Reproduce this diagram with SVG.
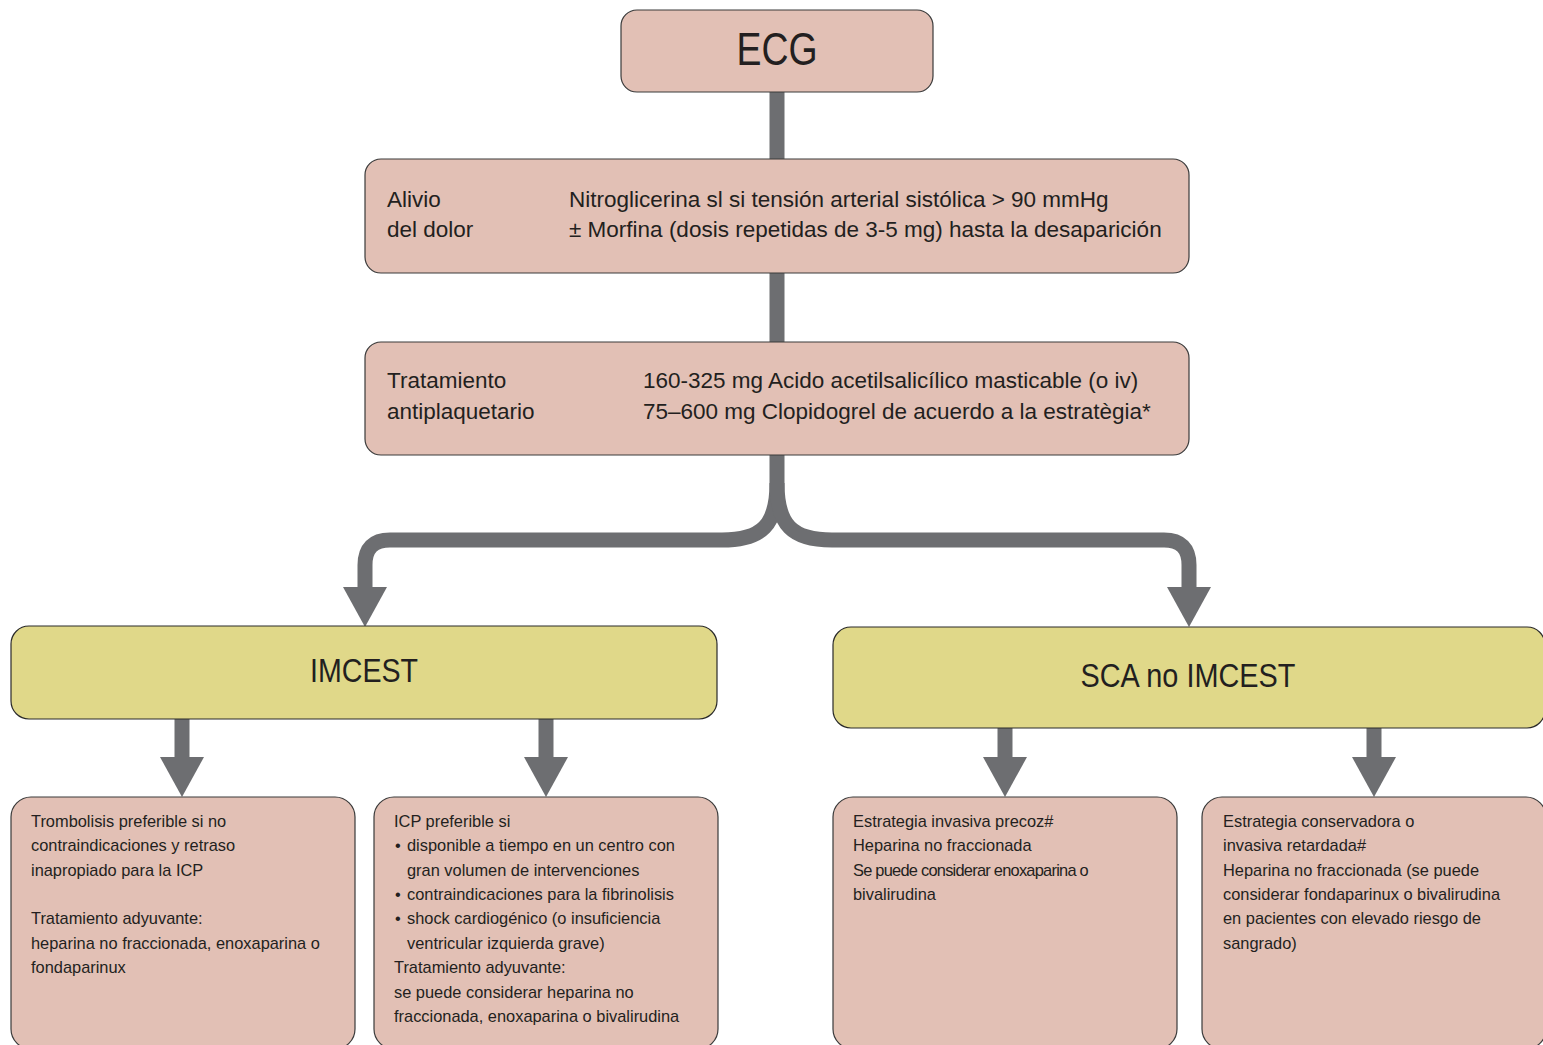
<svg xmlns="http://www.w3.org/2000/svg" width="1543" height="1045" viewBox="0 0 1543 1045">
<style>
.pink{fill:#e2c0b5;stroke:#3a3a3a;stroke-width:1.2}
.yel{fill:#e0d889;stroke:#2a2a2a;stroke-width:1.2}
.t{font-family:"Liberation Sans",Arial,sans-serif;fill:#231f20}
.big{font-size:22.5px}
.sm{font-size:16.4px}
.ttl{text-anchor:middle}
.con{fill:none;stroke:#6d6e71;stroke-width:15;stroke-linecap:butt}
</style>
<defs>
<marker id="arr" markerUnits="userSpaceOnUse" viewBox="0 -22 40 44" refX="0" refY="0" markerWidth="40" markerHeight="44" orient="auto">
<path d="M0,-22 L40,0 L0,22 z" fill="#6d6e71"/>
</marker>
</defs>
<rect width="1543" height="1045" fill="#ffffff"/>
<g id="connectors">
<path class="con" d="M777,92 V159"/>
<path class="con" d="M777,273 V342"/>
<path class="con" d="M777,455 V483 C777,525 762,540 722,540 H390 Q365,540 365,565 V587" marker-end="url(#arr)"/>
<path class="con" d="M777,483 C777,525 792,540 832,540 H1164 Q1189,540 1189,565 V587" marker-end="url(#arr)"/>
<path class="con" d="M182,719 V757" marker-end="url(#arr)"/>
<path class="con" d="M546,719 V757" marker-end="url(#arr)"/>
<path class="con" d="M1005,728 V757" marker-end="url(#arr)"/>
<path class="con" d="M1374,728 V757" marker-end="url(#arr)"/>
</g>
<g id="ecg">
<rect class="pink" x="621" y="10" width="312" height="82" rx="16"/>
<text class="t ttl" x="777" y="65" font-size="46" textLength="81" lengthAdjust="spacingAndGlyphs">ECG</text>
</g>
<g id="alivio">
<rect class="pink" x="365" y="159" width="824" height="114" rx="16"/>
<text class="t big" x="387" y="207">Alivio</text>
<text class="t big" x="387" y="237">del dolor</text>
<text class="t big" x="569" y="207">Nitroglicerina sl si tensión arterial sistólica &gt; 90 mmHg</text>
<text class="t big" x="569" y="237">± Morfina (dosis repetidas de 3-5 mg) hasta la desaparición</text>
</g>
<g id="antiplaquetario">
<rect class="pink" x="365" y="342" width="824" height="113" rx="16"/>
<text class="t big" x="387" y="388">Tratamiento</text>
<text class="t big" x="387" y="419">antiplaquetario</text>
<text class="t big" x="643" y="388">160-325 mg Acido acetilsalicílico masticable (o iv)</text>
<text class="t big" x="643" y="419">75–600 mg Clopidogrel de acuerdo a la estratègia*</text>
</g>
<g id="imcest">
<rect class="yel" x="11" y="626" width="706" height="93" rx="18"/>
<text class="t ttl" x="364" y="682" font-size="34" textLength="108" lengthAdjust="spacingAndGlyphs">IMCEST</text>
</g>
<g id="sca">
<rect class="yel" x="833" y="627" width="712" height="101" rx="18"/>
<text class="t ttl" x="1188" y="687" font-size="34" textLength="215" lengthAdjust="spacingAndGlyphs">SCA no IMCEST</text>
</g>
<g id="trombolisis">
<rect class="pink" x="11" y="797" width="344" height="252" rx="20"/>
<text class="t sm" x="31" y="826.7">Trombolisis preferible si no</text>
<text class="t sm" x="31" y="851.1">contraindicaciones y retraso</text>
<text class="t sm" x="31" y="875.5">inapropiado para la ICP</text>
<text class="t sm" x="31" y="924.3">Tratamiento adyuvante:</text>
<text class="t sm" x="31" y="948.7">heparina no fraccionada, enoxaparina o</text>
<text class="t sm" x="31" y="973.1">fondaparinux</text>
</g>
<g id="icp">
<rect class="pink" x="374" y="797" width="344" height="252" rx="20"/>
<text class="t sm" x="394" y="826.7">ICP preferible si</text>
<text class="t sm" x="395" y="851.1">•</text>
<text class="t sm" x="407" y="851.1">disponible a tiempo en un centro con</text>
<text class="t sm" x="407" y="875.5">gran volumen de intervenciones</text>
<text class="t sm" x="395" y="899.9">•</text>
<text class="t sm" x="407" y="899.9">contraindicaciones para la fibrinolisis</text>
<text class="t sm" x="395" y="924.3">•</text>
<text class="t sm" x="407" y="924.3">shock cardiogénico (o insuficiencia</text>
<text class="t sm" x="407" y="948.7">ventricular izquierda grave)</text>
<text class="t sm" x="394" y="973.1">Tratamiento adyuvante:</text>
<text class="t sm" x="394" y="997.5">se puede considerar heparina no</text>
<text class="t sm" x="394" y="1021.9">fraccionada, enoxaparina o bivalirudina</text>
</g>
<g id="precoz">
<rect class="pink" x="833" y="797" width="344" height="252" rx="20"/>
<text class="t sm" x="853" y="826.7">Estrategia invasiva precoz#</text>
<text class="t sm" x="853" y="851.1">Heparina no fraccionada</text>
<text class="t sm" x="853" y="875.5" letter-spacing="-0.75">Se puede considerar enoxaparina o</text>
<text class="t sm" x="853" y="899.9">bivalirudina</text>
</g>
<g id="conservadora">
<rect class="pink" x="1202" y="797" width="344" height="252" rx="20"/>
<text class="t sm" x="1223" y="826.7">Estrategia conservadora o</text>
<text class="t sm" x="1223" y="851.1">invasiva retardada#</text>
<text class="t sm" x="1223" y="875.5">Heparina no fraccionada (se puede</text>
<text class="t sm" x="1223" y="899.9">considerar fondaparinux o bivalirudina</text>
<text class="t sm" x="1223" y="924.3">en pacientes con elevado riesgo de</text>
<text class="t sm" x="1223" y="948.7">sangrado)</text>
</g>
</svg>
